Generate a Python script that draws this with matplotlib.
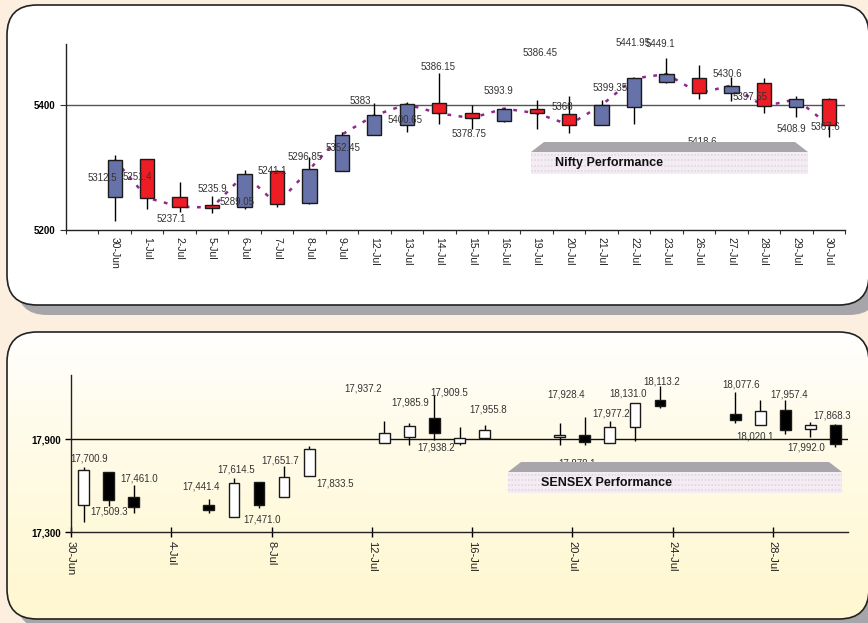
import numpy as np
import pandas as pd
import matplotlib
matplotlib.use("Agg")
import matplotlib.pyplot as plt
from matplotlib.patches import FancyBboxPatch, Polygon, Rectangle
from matplotlib.colors import LinearSegmentedColormap

plt.rcParams['font.family'] = ['Liberation Sans', 'DejaVu Sans']

# trading days, 30 Jun - 30 Jul 2010 (shared by both charts)
TRADE_DATES = ["2010-06-30", "2010-07-01", "2010-07-02", "2010-07-05", "2010-07-06",
               "2010-07-07", "2010-07-08", "2010-07-09", "2010-07-12", "2010-07-13",
               "2010-07-14", "2010-07-15", "2010-07-16", "2010-07-19", "2010-07-20",
               "2010-07-21", "2010-07-22", "2010-07-23", "2010-07-26", "2010-07-27",
               "2010-07-28", "2010-07-29", "2010-07-30"]

NIFTY_OPEN = [5252, 5313, 5252, 5240, 5236, 5294, 5243, 5295, 5352, 5367, 5403, 5387,
              5374, 5393, 5386, 5368, 5396, 5437, 5443, 5419, 5434, 5396, 5408.5]
NIFTY_HIGH = [5319, 5313, 5277, 5255, 5296, 5296, 5317, 5357, 5402, 5405, 5450, 5399,
              5395, 5408, 5414, 5408, 5443, 5475, 5463, 5445, 5443, 5414, 5411]
NIFTY_LOW = [5214, 5234, 5228, 5227, 5234, 5236, 5242, 5294, 5351, 5357, 5370, 5361,
             5373, 5361, 5355, 5367, 5370, 5435, 5409, 5406, 5387, 5380, 5348]
NIFTY_CLOSE = [5312.5, 5251.4, 5237.1, 5235.9, 5289.05, 5241.1, 5296.85, 5352.45, 5383,
               5400.65, 5386.15, 5378.75, 5393.9, 5386.45, 5368, 5399.35, 5441.95, 5449.1,
               5418.6, 5430.6, 5397.55, 5408.9, 5367.6]

SENSEX_OPEN = [17474, 17687, 17528, 17474, 17395, 17620, 17526, 17659, 17872, 17911, 18034,
               17872, 17908, 17913, 17924, 17872, 17979, 18152, 18059, 17990, 18087, 17965,
               17990]
SENSEX_HIGH = [17721, 17690, 17603, 17511, 17646, 17620, 17726, 17857, 18016, 18001, 18184,
               17980, 17990, 18005, 18040, 18016, 18134, 18242, 18201, 18152, 18152, 18008,
               17995]
SENSEX_LOW = [17366, 17470, 17420, 17420, 17395, 17453, 17526, 17659, 17872, 17861, 17894,
              17861, 17908, 17861, 17861, 17872, 17887, 18098, 18005, 17990, 17932, 17915,
              17846]
SENSEX_CLOSE = [17700.9, 17509.3, 17461.0, 17441.4, 17614.5, 17471.0, 17651.7, 17833.5,
                17937.2, 17985.9, 17938.2, 17909.5, 17955.8, 17928.4, 17878.1, 17977.2,
                18131.0, 18113.2, 18020.1, 18077.6, 17957.4, 17992.0, 17868.3]

# data-label nudges in pixels (dx right, dy down) from each candle's close
NIFTY_LBL = [(-12, 18), (-10, -21), (-8, 12), (0, -19), (-7, 28), (-5, -33), (-4, -12),
             (1, 13), (-14, -14), (-2, 16), (-1, -46), (-3, 16), (-6, -18), (3, -60),
             (-7, -18), (9, -17), (-1, -35), (-6, -30), (3, 49), (-4, -12), (-14, -9),
             (-5, 30), (-3, 2)]
SENSEX_LBL = [(6, -11), (1, 12), (5, -29), (-8, -24), (2, -14), (3, 14), (-4, -17),
              (26, 34), (-21, -45), (1, -23), (2, 14), (-10, -45), (4, -21), (6, -40),
              (-8, 21), (1, -14), (-7, -10), (2, -24), (20, 16), (-19, -27), (4, -36),
              (-4, 23), (-3, -28)]

W, H = 868, 623
PX2PT = 0.72

dates = pd.to_datetime(TRADE_DATES)
fig = plt.figure(figsize=(W / 100, H / 100), dpi=100)
fig.patch.set_facecolor('#FCEFDF')

# --- background panels (pixel coordinates) -------------------------------------------
bg = fig.add_axes([0, 0, 1, 1], zorder=0)
bg.axis('off')
STYLE = "round,pad=0,rounding_size=30"


def panel(y0, y1, face):
    bg.add_patch(FancyBboxPatch((17, y0 + 10), 862, y1 - y0, boxstyle=STYLE,
                                fc='#A6A6AA', ec='none', zorder=1))
    bg.add_patch(FancyBboxPatch((7, y0), 862, y1 - y0, boxstyle=STYLE,
                                fc=face, ec='none', zorder=2))
    edge = FancyBboxPatch((7, y0), 862, y1 - y0, boxstyle=STYLE,
                          fc='none', ec='#222222', lw=1.2, zorder=4)
    bg.add_patch(edge)
    return edge


panel(5, 305, 'white')
bot = panel(332, 619, 'white')
grad = np.linspace(0, 1, 200)[:, None] ** 0.8
cmap = LinearSegmentedColormap.from_list('cream', ['#FFFFFF', '#FFF7CF'])
im = bg.imshow(grad, extent=(7, 869, 619, 332), aspect='auto', cmap=cmap, zorder=3)
im.set_clip_path(bot)
bg.set_xlim(0, W)
bg.set_ylim(H, 0)


def candles(ax, x, o, h, l, c, width, up, down):
    o = np.asarray(o, float); c = np.asarray(c, float)
    ax.vlines(x, l, h, color='black', lw=1, zorder=2)
    colors = np.where(c >= o, up, down)
    ax.bar(x, c - o, bottom=o, width=width, color=colors, edgecolor='#1a1a1a', lw=1, zorder=3)


def data_labels(ax, x, c, texts, nudges):
    for xi, ci, t, (dx, dy) in zip(x, c, texts, nudges):
        ax.annotate(t, (xi, ci), xytext=(dx * PX2PT, -dy * PX2PT), textcoords='offset points',
                    ha='center', va='center', fontsize=7, color='#333333', zorder=4)


# --- (a) Nifty: category axis, first slot left empty --------------------------------
ax1 = fig.add_axes([66 / W, 1 - 230 / H, (845 - 66) / W, (230 - 44) / H], zorder=2)
ax1.set_facecolor('none')
k = np.arange(1, len(dates) + 1)
ax1.axhline(5400, color='#555555', lw=1, zorder=1)
ax1.plot(k, NIFTY_CLOSE, color='#92278F', ls=(0, (1.5, 3)), lw=1.8, zorder=1)
candles(ax1, k, NIFTY_OPEN, NIFTY_HIGH, NIFTY_LOW, NIFTY_CLOSE, 0.44, '#6672A8', '#EE1C25')
data_labels(ax1, k, NIFTY_CLOSE, [f"{v:g}" for v in NIFTY_CLOSE], NIFTY_LBL)
ax1.set_xlim(-0.5, len(dates) + 0.5)
ax1.set_ylim(5200, 5497)
ax1.set_xticks(np.arange(-0.5, len(dates) + 1, 1))
ax1.set_xticklabels([])
ax1.set_xticks(k, [f"{d.day}-{d.strftime('%b')}" for d in dates], minor=True)
ax1.tick_params(axis='x', which='major', length=3, width=0.8, color='#333333')
ax1.tick_params(axis='x', which='minor', length=0, pad=5, labelrotation=-90, labelsize=7.5,
                labelcolor='#222222')
ax1.set_yticks([5200, 5400])
ax1.tick_params(axis='y', length=4, width=0.8, labelsize=7, color='#333333')
for t in ax1.get_yticklabels():
    t.set_fontweight('bold')

# --- (b) Sensex: date axis ------------------------------------------------------------
ax2 = fig.add_axes([71 / W, 1 - 532 / H, (848 - 71) / W, (532 - 375) / H], zorder=2)
ax2.set_facecolor('none')
start = dates[0]
xd = (dates - start).days.values + 0.5
ax2.axhline(17900, color='#111111', lw=1, zorder=1)
candles(ax2, xd, SENSEX_OPEN, SENSEX_HIGH, SENSEX_LOW, SENSEX_CLOSE, 0.43, 'white', 'black')
data_labels(ax2, xd, SENSEX_CLOSE, [f"{v:,.1f}" for v in SENSEX_CLOSE], SENSEX_LBL)
ax2.set_xlim(0, 31)
ax2.set_ylim(17300, 18313)
ticks = pd.date_range(start, periods=8, freq="4D")
ax2.set_xticks((ticks - start).days.values,
               [f"{d.day}-{d.strftime('%b')}" for d in ticks])
ax2.tick_params(axis='x', direction='inout', length=7, width=1, pad=3, labelrotation=-90,
                labelsize=8, labelcolor='#222222')
ax2.set_yticks([17300, 17900])
ax2.yaxis.set_major_formatter(matplotlib.ticker.StrMethodFormatter("{x:,.0f}"))
ax2.tick_params(axis='y', length=4, width=1, labelsize=7)
for t in ax2.get_yticklabels():
    t.set_fontweight('bold')

for ax in (ax1, ax2):
    for s in ('top', 'right'):
        ax.spines[s].set_visible(False)
    for s in ('left', 'bottom'):
        ax.spines[s].set_color('#222222')
        ax.spines[s].set_linewidth(1)

# --- title banners, drawn over the charts ---------------------------------------------
ov = fig.add_axes([0, 0, 1, 1], zorder=3)
ov.set_facecolor('none')
ov.axis('off')
ov.set_xlim(0, W)
ov.set_ylim(H, 0)


def banner(x0, x1, y_top, y_mid, y_bot, inset, text, tx):
    ov.add_patch(Polygon([(x0, y_mid), (x0 + inset, y_top), (x1 - inset, y_top), (x1, y_mid)],
                         closed=True, fc='#A9A6AB', ec='none'))
    ov.add_patch(Rectangle((x0, y_mid), x1 - x0, y_bot - y_mid, fc='#F3EDF3', ec='none'))
    for yy in np.linspace(y_mid + 3, y_bot - 3, 4):
        ov.plot([x0, x1], [yy, yy], color='#E4D6E4', lw=1.2, ls=(0, (1, 1)))
    ov.text(tx, (y_mid + y_bot) / 2, text, fontsize=9, fontweight='bold', color='#111111',
            ha='left', va='center')


banner(531, 808, 142, 152, 174, 13, "Nifty Performance", 555)
banner(508, 842, 462, 472, 493, 13, "SENSEX Performance", 541)

fig.savefig("out.png", dpi=100, facecolor=fig.get_facecolor())
